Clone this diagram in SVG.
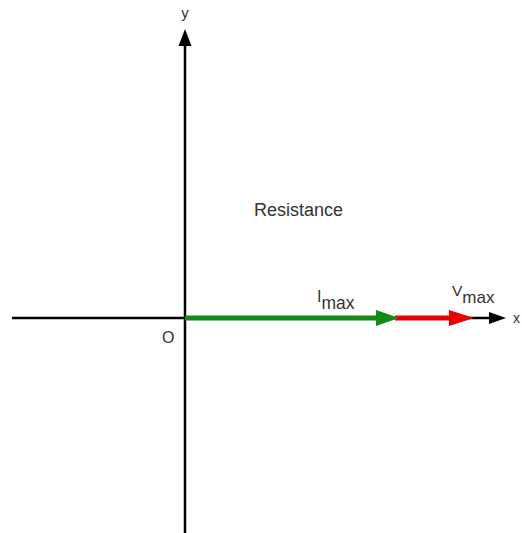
<svg xmlns="http://www.w3.org/2000/svg" width="522" height="533" viewBox="0 0 522 533">
<style>
text{font-family:"Liberation Sans",Arial,sans-serif;fill:#333}
.ax{stroke:#000;stroke-width:2.5;fill:none}
</style>
<rect width="522" height="533" fill="#fff"/>
<g id="connectors">
<g id="x-axis">
<line class="ax" x1="12" y1="318" x2="492" y2="318"/>
<polygon points="489,312 506,318 489,324" fill="#000"/>
</g>
<g id="y-axis">
<line class="ax" x1="185" y1="533" x2="185" y2="42"/>
<polygon points="178.5,46 185,29 191.5,46" fill="#000"/>
</g>
<g id="vmax-vector">
<line x1="395" y1="318" x2="452" y2="318" stroke="#e60000" stroke-width="5"/>
<polygon points="449,310 474,318 449,326" fill="#e60000"/>
</g>
<g id="imax-vector">
<line x1="185" y1="318" x2="380" y2="318" stroke="#138a13" stroke-width="5"/>
<polygon points="376,310 399,318 376,326" fill="#138a13"/>
</g>
</g>
<g id="labels">
<text id="label-y" x="185" y="18" font-size="15" text-anchor="middle">y</text>
<text id="label-x" x="513" y="323" font-size="14">x</text>
<text id="label-o" x="162" y="343" font-size="16">O</text>
<text id="label-resistance" x="254" y="216" font-size="18">Resistance</text>
<text id="label-imax" x="317" y="302" font-size="16">I<tspan font-size="17.5" y="309">max</tspan></text>
<text id="label-vmax" x="452" y="296" font-size="15.5">V<tspan font-size="17" y="303">max</tspan></text>
</g>
</svg>
